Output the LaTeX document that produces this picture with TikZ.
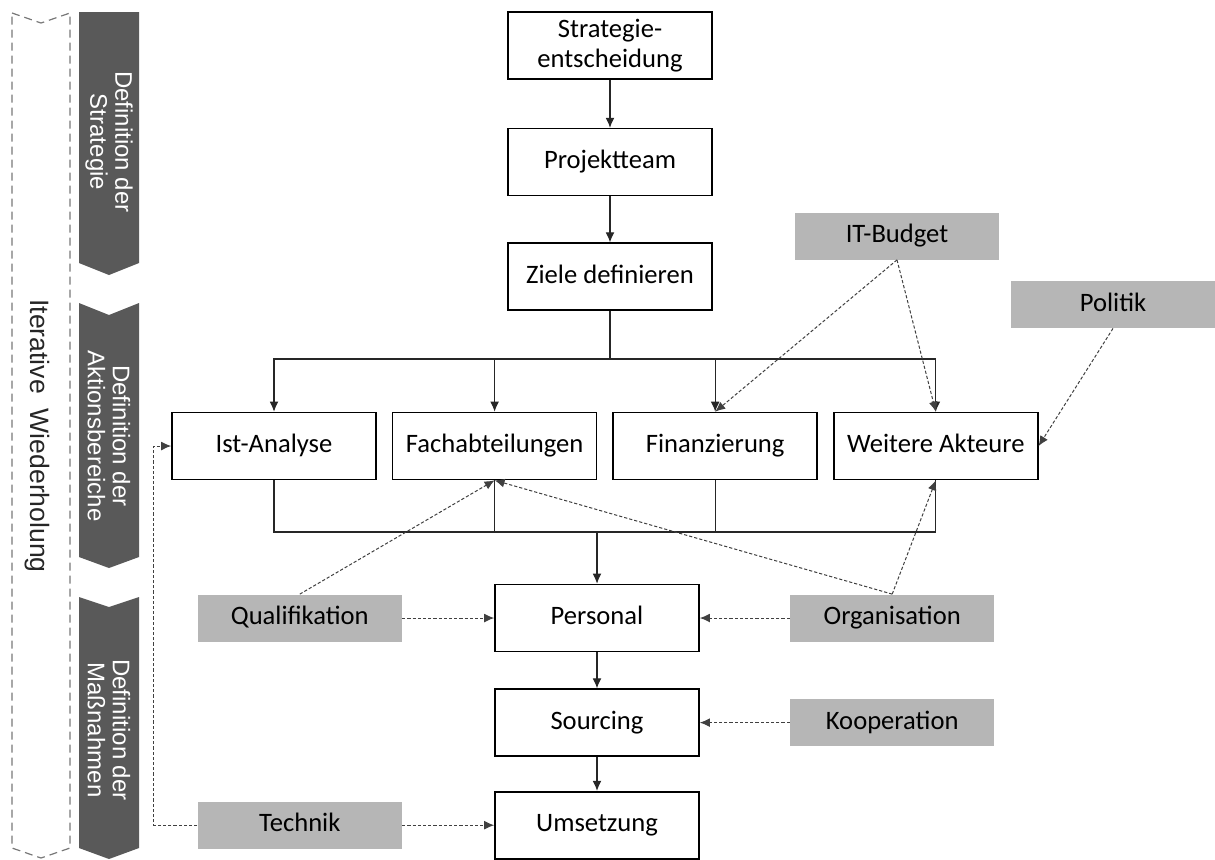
\documentclass[tikz,border=0pt]{standalone}
\usepackage{fontspec}
\setmainfont{Carlito}
\newfontfamily\arialfont{Liberation Sans}
\usetikzlibrary{positioning, arrows.meta}

\definecolor{phasengrau}{RGB}{89,89,89}
\definecolor{faktorgrau}{RGB}{182,182,182}
\definecolor{rahmengrau}{RGB}{120,120,120}

\tikzset{
  schritt/.style={draw, line width=0.8pt, fill=white, minimum width=102pt,
    minimum height=33.5pt, inner sep=2pt, align=center, text height=9.5pt,
    text depth=3pt, font=\fontsize{13.3}{15}\selectfont},
  faktor/.style={fill=faktorgrau, minimum width=102pt, minimum height=23.5pt,
    inner sep=2pt, text height=9.5pt, text depth=3pt,
    font=\fontsize{13.3}{15}\selectfont},
  pfeil/.style={-{Latex[length=5pt,width=4.4pt]}, line width=0.55pt},
  linie/.style={line width=0.55pt, draw=black!85},
  einfluss/.style={pfeil, dash pattern=on 1.6pt off 1pt, line width=0.5pt,
    draw=black!75},
  phasetext/.style={rotate=-90, text=white, align=center,
    font=\arialfont\fontsize{12}{12.5}\selectfont},
}

\begin{document}
\begin{tikzpicture}[x=0.5pt, y=-0.5pt]
  \useasboundingbox (0,0) rectangle (1215,859);

  % iteration bracket
  \draw [rahmengrau, dash pattern=on 4pt off 2.5pt, line width=0.6pt]
    (12,13) -- (41,23) -- (70,13) -- (70,848) -- (41,858) -- (12,848) -- cycle;
  \node [rotate=-90, text=black!85, font=\arialfont\fontsize{13.3}{15}\selectfont]
    (iter) at (37,436) {Iterative\ \ Wiederholung};

  % phases
  \fill [phasengrau] (79,12) -- (139,12) -- (139,263) -- (109,275) -- (79,263) -- cycle;
  \fill [phasengrau] (79,303) -- (109,315) -- (139,303) -- (139,557) -- (109,568)
    -- (79,557) -- cycle;
  \fill [phasengrau] (79,597) -- (109,607) -- (139,597) -- (139,848) -- (109,859)
    -- (79,848) -- cycle;
  \node [phasetext] (p1) at (109,142) {Definition der\\Strategie};
  \node [phasetext] (p2) at (109,436) {Definition der\\Aktionsbereiche};
  \node [phasetext] (p3) at (109,730) {Definition der\\Maßnahmen};

  % strategy
  \node [schritt, text height={}, text depth={}] (strat) at (610,45.5)
    {Strategie-\\entscheidung};
  \node [schritt, below=24pt of strat] (team) {Projektteam};
  \node [schritt, below=23pt of team] (ziele) {Ziele definieren};

  % action areas
  \node [schritt] (ist) at (274,446) {Ist-Analyse};
  \node [schritt, right=7.5pt of ist] (fach) {Fachabteilungen};
  \node [schritt, right=7.5pt of fach] (fin) {Finanzierung};
  \node [schritt, right=7.5pt of fin] (akteure) {Weitere Akteure};

  % measures
  \node [schritt] (personal) at (597,618) {Personal};
  \node [schritt, below=18pt of personal] (sourcing) {Sourcing};
  \node [schritt, below=17pt of sourcing] (umsetzung) {Umsetzung};

  % influencing factors
  \node [faktor] (budget) at (897,236) {IT-Budget};
  \node [faktor] (politik) at (1113,304.5) {Politik};
  \node [faktor, left=46pt of personal] (quali) {Qualifikation};
  \node [faktor, right=45pt of personal] (orga) {Organisation};
  \node [faktor, right=45pt of sourcing] (koop) {Kooperation};
  \node [faktor, left=46pt of umsetzung] (technik) {Technik};

  % main flow
  \draw [linie, pfeil] (strat) -- (team);
  \draw [linie, pfeil] (team) -- (ziele);
  \coordinate (oben) at (610,359);
  \coordinate (unten) at (597,532);
  \draw [linie] (ziele.south) -- (oben);
  \draw [linie, pfeil] (oben) -| (ist.north);
  \draw [linie, pfeil] (oben) -| (fach.north);
  \draw [linie, pfeil] (oben) -| (fin.north);
  \draw [linie, pfeil] (oben) -| (akteure.north);
  \draw [linie] (ist.south) |- (unten);
  \draw [linie] (fach.south) |- (unten);
  \draw [linie] (fin.south) |- (unten);
  \draw [linie] (akteure.south) |- (unten);
  \draw [linie, pfeil] (unten) -- (personal.north);
  \draw [linie, pfeil] (personal) -- (sourcing);
  \draw [linie, pfeil] (sourcing) -- (umsetzung);

  % influences
  \draw [einfluss] (budget.south) -- (fin.north);
  \draw [einfluss] (budget.south) -- (akteure.north);
  \draw [einfluss] (politik.south) -- (akteure.east);
  \draw [einfluss] (quali.north) -- (fach.south);
  \draw [einfluss] (orga.north) -- (fach.south);
  \draw [einfluss] (orga.north) -- (akteure.south);
  \draw [einfluss] (quali) -- (personal);
  \draw [einfluss] (orga) -- (personal);
  \draw [einfluss] (koop) -- (sourcing);
  \draw [einfluss] (technik) -- (umsetzung);
  \draw [einfluss] (technik.west) -- ++(-44,0) |- (ist.west);
\end{tikzpicture}
\end{document}
